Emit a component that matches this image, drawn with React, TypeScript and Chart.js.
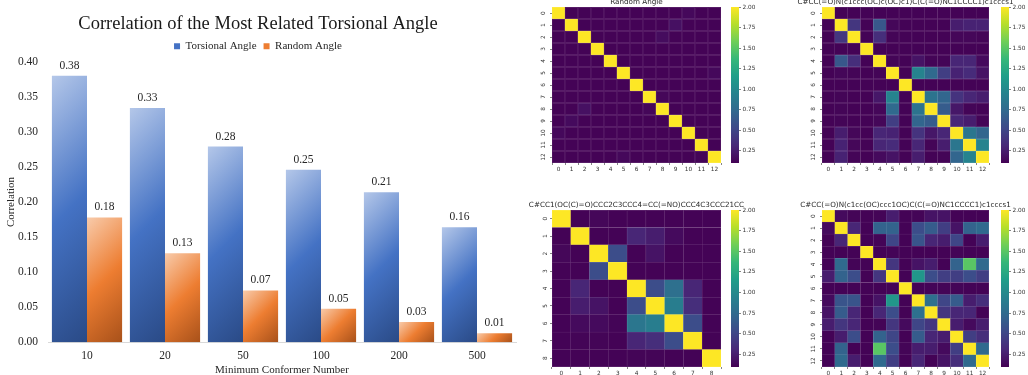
import React, { useEffect, useRef } from 'react';
import { Chart, registerables } from 'chart.js';

Chart.register(...registerables);

// ---------------- data ----------------
const categories = ['10', '20', '50', '100', '200', '500'];
const torsionalAngle = [0.38, 0.334, 0.279, 0.246, 0.214, 0.164];
const randomAngle = [0.178, 0.127, 0.074, 0.048, 0.029, 0.013];
const yTickValues = [0, 0.05, 0.1, 0.15, 0.2, 0.25, 0.3, 0.35, 0.4];

const heatTicks13 = ['0', '1', '2', '3', '4', '5', '6', '7', '8', '9', '10', '11', '12'];
const heatTicks9 = ['0', '1', '2', '3', '4', '5', '6', '7', '8'];
const colorbarTicks = [0.25, 0.5, 0.75, 1.0, 1.25, 1.5, 1.75, 2.0];
const colorMin = 0.1;
const colorMax = 2.0;

const randomAngleMatrix = [
  [2.0, 0.11, 0.11, 0.11, 0.11, 0.11, 0.11, 0.11, 0.11, 0.11, 0.14, 0.11, 0.11],
  [0.11, 2.0, 0.11, 0.11, 0.11, 0.11, 0.11, 0.11, 0.11, 0.18, 0.11, 0.11, 0.11],
  [0.11, 0.11, 2.0, 0.11, 0.11, 0.11, 0.11, 0.11, 0.16, 0.11, 0.11, 0.11, 0.11],
  [0.11, 0.11, 0.11, 2.0, 0.11, 0.11, 0.11, 0.11, 0.11, 0.11, 0.11, 0.11, 0.11],
  [0.11, 0.11, 0.11, 0.11, 2.0, 0.11, 0.11, 0.11, 0.11, 0.11, 0.11, 0.11, 0.11],
  [0.11, 0.11, 0.11, 0.11, 0.11, 2.0, 0.11, 0.11, 0.11, 0.11, 0.11, 0.11, 0.14],
  [0.11, 0.11, 0.11, 0.11, 0.11, 0.11, 2.0, 0.11, 0.11, 0.11, 0.11, 0.11, 0.11],
  [0.11, 0.11, 0.11, 0.11, 0.11, 0.11, 0.11, 2.0, 0.13, 0.11, 0.11, 0.11, 0.11],
  [0.11, 0.11, 0.18, 0.11, 0.11, 0.11, 0.11, 0.13, 2.0, 0.11, 0.11, 0.11, 0.11],
  [0.11, 0.15, 0.11, 0.11, 0.11, 0.11, 0.11, 0.11, 0.11, 2.0, 0.11, 0.11, 0.11],
  [0.14, 0.11, 0.11, 0.11, 0.11, 0.11, 0.11, 0.11, 0.11, 0.11, 2.0, 0.11, 0.11],
  [0.11, 0.11, 0.11, 0.11, 0.11, 0.11, 0.11, 0.11, 0.11, 0.11, 0.11, 2.0, 0.11],
  [0.11, 0.11, 0.11, 0.11, 0.11, 0.14, 0.11, 0.11, 0.11, 0.11, 0.11, 0.12, 2.0],
];

const moleculeAMatrix = [
  [2.0, 0.11, 0.11, 0.11, 0.11, 0.11, 0.11, 0.11, 0.11, 0.11, 0.11, 0.11, 0.11],
  [0.11, 2.0, 0.4, 0.11, 0.62, 0.13, 0.11, 0.11, 0.11, 0.11, 0.25, 0.28, 0.28],
  [0.11, 0.4, 2.0, 0.11, 0.35, 0.12, 0.11, 0.11, 0.11, 0.11, 0.13, 0.13, 0.12],
  [0.11, 0.11, 0.11, 2.0, 0.11, 0.11, 0.11, 0.11, 0.11, 0.11, 0.11, 0.11, 0.11],
  [0.11, 0.62, 0.35, 0.11, 2.0, 0.12, 0.11, 0.2, 0.12, 0.12, 0.3, 0.3, 0.15],
  [0.11, 0.13, 0.12, 0.11, 0.12, 2.0, 0.11, 0.95, 0.75, 0.45, 0.28, 0.33, 0.2],
  [0.11, 0.11, 0.11, 0.11, 0.11, 0.11, 2.0, 0.11, 0.11, 0.11, 0.11, 0.11, 0.11],
  [0.11, 0.12, 0.11, 0.11, 0.22, 0.95, 0.11, 2.0, 0.82, 0.72, 0.38, 0.3, 0.25],
  [0.11, 0.12, 0.11, 0.11, 0.13, 0.75, 0.11, 0.82, 2.0, 0.65, 0.22, 0.12, 0.11],
  [0.11, 0.12, 0.11, 0.11, 0.13, 0.45, 0.11, 0.72, 0.65, 2.0, 0.3, 0.25, 0.12],
  [0.11, 0.25, 0.13, 0.11, 0.3, 0.28, 0.11, 0.38, 0.22, 0.3, 2.0, 0.85, 0.72],
  [0.11, 0.28, 0.13, 0.11, 0.3, 0.33, 0.11, 0.3, 0.12, 0.25, 0.85, 2.0, 0.95],
  [0.11, 0.28, 0.12, 0.11, 0.15, 0.2, 0.11, 0.25, 0.11, 0.12, 0.72, 0.95, 2.0],
];

const moleculeBMatrix = [
  [2.0, 0.11, 0.13, 0.11, 0.11, 0.11, 0.11, 0.11, 0.11],
  [0.11, 2.0, 0.11, 0.11, 0.3, 0.25, 0.15, 0.11, 0.11],
  [0.13, 0.11, 2.0, 0.55, 0.11, 0.2, 0.11, 0.11, 0.11],
  [0.11, 0.11, 0.55, 2.0, 0.11, 0.11, 0.11, 0.11, 0.11],
  [0.11, 0.3, 0.11, 0.11, 2.0, 0.55, 0.8, 0.3, 0.11],
  [0.11, 0.25, 0.2, 0.11, 0.55, 2.0, 0.9, 0.35, 0.11],
  [0.11, 0.15, 0.15, 0.12, 0.85, 0.9, 2.0, 0.55, 0.11],
  [0.11, 0.12, 0.12, 0.11, 0.3, 0.35, 0.55, 2.0, 0.11],
  [0.11, 0.11, 0.11, 0.11, 0.12, 0.12, 0.11, 0.11, 2.0],
];

const moleculeCMatrix = [
  [2.0, 0.15, 0.12, 0.11, 0.12, 0.25, 0.11, 0.12, 0.2, 0.2, 0.11, 0.11, 0.11],
  [0.15, 2.0, 0.3, 0.11, 0.7, 0.7, 0.11, 0.55, 0.65, 0.45, 0.2, 0.7, 0.75],
  [0.11, 0.3, 2.0, 0.11, 0.12, 0.5, 0.11, 0.6, 0.3, 0.25, 0.5, 0.11, 0.25],
  [0.11, 0.11, 0.11, 2.0, 0.11, 0.12, 0.11, 0.11, 0.11, 0.11, 0.12, 0.11, 0.11],
  [0.11, 0.75, 0.12, 0.11, 2.0, 0.4, 0.11, 0.2, 0.25, 0.11, 0.7, 1.5, 0.75],
  [0.25, 0.7, 0.55, 0.11, 0.4, 2.0, 0.11, 1.1, 0.55, 0.45, 0.45, 0.55, 0.45],
  [0.11, 0.11, 0.11, 0.11, 0.11, 0.12, 2.0, 0.11, 0.12, 0.12, 0.12, 0.11, 0.11],
  [0.15, 0.6, 0.6, 0.11, 0.2, 1.1, 0.11, 2.0, 0.8, 0.5, 0.65, 0.25, 0.35],
  [0.2, 0.65, 0.3, 0.11, 0.3, 0.55, 0.11, 0.8, 2.0, 0.4, 0.3, 0.3, 0.11],
  [0.25, 0.4, 0.3, 0.11, 0.12, 0.4, 0.15, 0.5, 0.4, 2.0, 0.25, 0.15, 0.25],
  [0.11, 0.25, 0.55, 0.11, 0.7, 0.5, 0.11, 0.65, 0.3, 0.25, 2.0, 0.45, 0.35],
  [0.11, 0.7, 0.11, 0.11, 1.5, 0.55, 0.12, 0.25, 0.25, 0.15, 0.45, 2.0, 0.75],
  [0.11, 0.75, 0.25, 0.11, 0.75, 0.45, 0.11, 0.3, 0.11, 0.2, 0.35, 0.75, 2.0],
];

// ---------------- styles ----------------
const SERIF = '"Liberation Serif", "Times New Roman", serif';
const SANS = '"DejaVu Sans", sans-serif';
const BLUE_STOPS = ['#b4c7e9', '#4472c4', '#2a4a86'];
const ORANGE_STOPS = ['#f8cbab', '#ed7d31', '#a8511a'];
const VIRIDIS = ['#440154', '#482878', '#3e4989', '#31688e', '#26828e', '#1f9e89', '#35b779', '#6ece58', '#b5de2b', '#fde725'];

function hexToRgb(h: string): number[] {
  const n = parseInt(h.slice(1), 16);
  return [(n >> 16) & 255, (n >> 8) & 255, n & 255];
}

function viridis(v: number, lighten = 0): string {
  let t = (v - colorMin) / (colorMax - colorMin);
  t = Math.max(0, Math.min(1, t));
  const seg = t * (VIRIDIS.length - 1);
  const i = Math.min(Math.floor(seg), VIRIDIS.length - 2);
  const f = seg - i;
  const a = hexToRgb(VIRIDIS[i]);
  const b = hexToRgb(VIRIDIS[i + 1]);
  const c = a.map((x, k) => x + (b[k] - x) * f).map((x) => x + (255 - x) * lighten);
  return `rgb(${c.map((x) => Math.round(x)).join(',')})`;
}

function barFill(stops: string[], datasetOffset: number) {
  return (ctx: any) => {
    const chart = ctx.chart;
    const xs = chart.scales?.x;
    const ys = chart.scales?.y;
    if (ctx.type !== 'data' || !xs || !ys || !chart.chartArea) return stops[1];
    const catW = xs.width / categories.length;
    const barW = (catW * 0.9) / 2;
    const center = xs.getPixelForValue(ctx.dataIndex);
    const x0 = center - barW + datasetOffset * barW;
    const top = ys.getPixelForValue(ctx.raw);
    const bottom = ys.getPixelForValue(0);
    const d = (barW + (bottom - top)) / 2;
    if (!isFinite(d) || d <= 0) return stops[1];
    const g = chart.ctx.createLinearGradient(x0, top, x0 + d, top + d);
    g.addColorStop(0, stops[0]);
    g.addColorStop(0.5, stops[1]);
    g.addColorStop(1, stops[2]);
    return g;
  };
}

const valueLabels = {
  id: 'valueLabels',
  afterDatasetsDraw(chart: any) {
    const { ctx } = chart;
    ctx.save();
    ctx.font = `11.5px ${SERIF}`;
    ctx.fillStyle = '#262626';
    ctx.textAlign = 'center';
    ctx.textBaseline = 'middle';
    chart.data.datasets.forEach((ds: any, di: number) => {
      chart.getDatasetMeta(di).data.forEach((el: any, i: number) => {
        ctx.fillText(Number(ds.data[i]).toFixed(2), el.x, el.y - 10);
      });
    });
    ctx.restore();
  },
};

function BarPanel() {
  const ref = useRef<HTMLCanvasElement>(null);
  useEffect(() => {
    if (!ref.current) return;
    const legendColors = ['#4472c4', '#ed7d31'];
    const chart = new Chart(ref.current, {
      type: 'bar',
      data: {
        labels: categories,
        datasets: [
          { label: 'Torsional Angle', data: torsionalAngle, backgroundColor: barFill(BLUE_STOPS, 0) as any, categoryPercentage: 0.9, barPercentage: 1 },
          { label: 'Random Angle', data: randomAngle, backgroundColor: barFill(ORANGE_STOPS, 1) as any, categoryPercentage: 0.9, barPercentage: 1 },
        ],
      },
      options: {
        animation: false,
        responsive: false,
        events: [],
        layout: { padding: { top: 0, right: 14, left: 0, bottom: 0 } },
        plugins: {
          title: {
            display: true,
            text: 'Correlation of the Most Related Torsional Angle',
            font: { family: SERIF, size: 18.5, weight: 'normal', lineHeight: 1 },
            color: '#1a1a1a',
            padding: { top: 9.5, bottom: 0 },
          },
          legend: {
            display: true,
            position: 'top',
            labels: {
              boxWidth: 6,
              boxHeight: 6,
              padding: 7,
              font: { family: SERIF, size: 11 },
              color: '#262626',
              generateLabels: (c: any) =>
                c.data.datasets.map((ds: any, i: number) => ({
                  text: ds.label,
                  fillStyle: legendColors[i],
                  strokeStyle: legendColors[i],
                  lineWidth: 0,
                  hidden: false,
                  datasetIndex: i,
                  fontColor: '#262626',
                })),
            },
          },
          tooltip: { enabled: false },
        },
        scales: {
          x: {
            grid: { display: false, drawTicks: false },
            border: { display: true, color: '#d9d9d9', width: 1 },
            ticks: { font: { family: SERIF, size: 11.5 }, color: '#262626', padding: 6.5 },
            afterFit: (s: any) => {
              s.height = 34.7;
            },
            title: {
              display: true,
              text: 'Minimum Conformer Number',
              font: { family: SERIF, size: 11 },
              color: '#262626',
              padding: { top: 1, bottom: 0 },
            },
          },
          y: {
            min: 0,
            max: 0.4,
            afterBuildTicks: (s: any) => {
              s.ticks = yTickValues.map((v) => ({ value: v }));
            },
            afterFit: (s: any) => {
              s.width = 48;
              s.paddingTop = 61.7;
            },
            grid: { display: false, drawTicks: false },
            border: { display: false },
            ticks: {
              callback: (v: any) => Number(v).toFixed(2),
              font: { family: SERIF, size: 11.5 },
              color: '#262626',
              padding: 10,
            },
            title: {
              display: true,
              text: 'Correlation',
              font: { family: SERIF, size: 11 },
              color: '#262626',
              padding: { top: 5, bottom: 0 },
            },
          },
        },
      } as any,
      plugins: [valueLabels],
    });
    return () => chart.destroy();
  }, []);
  return <canvas ref={ref} width={530} height={377} style={{ position: 'absolute', left: 0, top: 0 }} />;
}

const colorbarFill = {
  id: 'colorbarFill',
  beforeDatasetsDraw(chart: any) {
    const { ctx, chartArea: a } = chart;
    const y = chart.scales.y;
    const g = ctx.createLinearGradient(0, y.getPixelForValue(colorMin), 0, y.getPixelForValue(colorMax));
    VIRIDIS.forEach((c, i) => g.addColorStop(i / (VIRIDIS.length - 1), c));
    ctx.save();
    ctx.fillStyle = g;
    ctx.fillRect(a.left, a.top, a.right - a.left, a.bottom - a.top);
    ctx.restore();
  },
};

type Rect = { x: number; y: number; w: number; h: number };

function HeatmapPanel(props: { title: string; matrix: number[][]; ticks: string[]; plot: Rect; cbX: number }) {
  const { title, matrix, ticks, plot, cbX } = props;
  const ref = useRef<HTMLCanvasElement>(null);
  const cbRef = useRef<HTMLCanvasElement>(null);
  const PAD_L = 30;
  const PAD_T = 22;
  const PAD_B = 14;
  const PAD_R = 30;
  const CB_W = 8;
  const CB_AXIS = 26;

  useEffect(() => {
    if (!ref.current || !cbRef.current) return;
    const n = matrix.length;
    const cells: any[] = [];
    matrix.forEach((row, r) => row.forEach((v, c) => cells.push({ x: c, y: [r - 0.5, r + 0.5], v })));
    const tickFont = { family: SANS, size: 5.8 };
    const tickColor = '#333333';
    const chart = new Chart(ref.current, {
      type: 'bar',
      data: {
        datasets: [
          {
            data: cells,
            backgroundColor: cells.map((c) => viridis(c.v)),
            borderColor: cells.map((c) => viridis(c.v, 0.22)),
            borderWidth: 0.5,
            borderSkipped: false,
            barPercentage: 1,
            categoryPercentage: 1,
          },
        ],
      },
      options: {
        animation: false,
        responsive: false,
        events: [],
        layout: { padding: { left: 0, right: 0, top: 0, bottom: 0 } },
        plugins: {
          legend: { display: false },
          tooltip: { enabled: false },
          title: {
            display: true,
            text: title,
            font: { family: SANS, size: 7.2, weight: 'normal', lineHeight: 1.2 },
            color: '#262626',
            padding: { top: 12.8, bottom: 0.6 },
          },
        },
        scales: {
          x: {
            type: 'linear',
            offset: false,
            min: -0.5,
            max: n - 0.5,
            afterBuildTicks: (s: any) => {
              s.ticks = ticks.map((_, i) => ({ value: i }));
            },
            afterFit: (s: any) => {
              s.height = PAD_B;
            },
            ticks: {
              callback: (_v: any, i: number) => ticks[i],
              font: tickFont,
              color: tickColor,
              padding: 1,
              minRotation: 0,
              maxRotation: 0,
              autoSkip: false,
            },
            grid: { display: true, drawOnChartArea: false, drawTicks: true, tickLength: 2, color: '#333333', lineWidth: 0.6 },
            border: { display: false },
          },
          y: {
            type: 'linear',
            reverse: true,
            min: -0.5,
            max: n - 0.5,
            afterBuildTicks: (s: any) => {
              s.ticks = ticks.map((_, i) => ({ value: i }));
            },
            afterFit: (s: any) => {
              s.width = PAD_L;
            },
            ticks: {
              callback: (_v: any, i: number) => ticks[i],
              font: tickFont,
              color: tickColor,
              padding: 3,
              minRotation: 90,
              maxRotation: 90,
              crossAlign: 'center',
              autoSkip: false,
            },
            grid: { display: true, drawOnChartArea: false, drawTicks: true, tickLength: 2, color: '#333333', lineWidth: 0.6 },
            border: { display: false },
          },
          // invisible spacer on the right so that the title centres over the cells
          spacer: {
            type: 'linear',
            axis: 'y',
            position: 'right',
            display: true,
            min: 0,
            max: 1,
            afterFit: (s: any) => {
              s.width = PAD_R;
            },
            ticks: { display: false },
            grid: { display: false, drawTicks: false },
            border: { display: false },
          },
        },
      } as any,
    });

    const cb = new Chart(cbRef.current, {
      type: 'scatter',
      data: { datasets: [{ data: [] }] },
      options: {
        animation: false,
        responsive: false,
        events: [],
        layout: { padding: { left: 0, right: 0, top: 6, bottom: 6 } },
        plugins: { legend: { display: false }, tooltip: { enabled: false }, title: { display: false } },
        scales: {
          x: { display: false, min: 0, max: 1 },
          y: {
            position: 'right',
            min: colorMin,
            max: colorMax,
            afterBuildTicks: (s: any) => {
              s.ticks = colorbarTicks.map((v) => ({ value: v }));
            },
            afterFit: (s: any) => {
              s.width = CB_AXIS;
            },
            ticks: {
              callback: (v: any) => Number(v).toFixed(2),
              font: tickFont,
              color: tickColor,
              padding: 1.5,
            },
            grid: { display: true, drawOnChartArea: false, drawTicks: true, tickLength: 2, color: '#333333', lineWidth: 0.6 },
            border: { display: false },
          },
        },
      } as any,
      plugins: [colorbarFill],
    });
    return () => {
      chart.destroy();
      cb.destroy();
    };
  }, []);

  return (
    <>
      <canvas
        ref={ref}
        width={plot.w + PAD_L + PAD_R}
        height={plot.h + PAD_T + PAD_B}
        style={{ position: 'absolute', left: plot.x - PAD_L, top: plot.y - PAD_T }}
      />
      <canvas
        ref={cbRef}
        width={CB_W + CB_AXIS}
        height={plot.h + 12}
        style={{ position: 'absolute', left: cbX, top: plot.y - 6 }}
      />
    </>
  );
}

export default function App() {
  return (
    <div
      style={{
        position: 'fixed',
        left: 0,
        top: 0,
        width: 1028,
        height: 375,
        overflow: 'hidden',
        background: '#ffffff',
      }}
    >
      <BarPanel />
      <HeatmapPanel title="Random Angle" matrix={randomAngleMatrix} ticks={heatTicks13} plot={{ x: 552, y: 7, w: 169, h: 156 }} cbX={731} />
      <HeatmapPanel
        title="C#CC(=O)N(c1ccc(OC)c(OC)c1)C(C(=O)NC1CCCC1)c1cccs1"
        matrix={moleculeAMatrix}
        ticks={heatTicks13}
        plot={{ x: 822, y: 7, w: 167, h: 156 }}
        cbX={1001}
      />
      <HeatmapPanel
        title="C#CC1(OC(C)=O)CCC2C3CCC4=CC(=NO)CCC4C3CCC21CC"
        matrix={moleculeBMatrix}
        ticks={heatTicks9}
        plot={{ x: 552, y: 210, w: 169, h: 157 }}
        cbX={731}
      />
      <HeatmapPanel
        title="C#CC(=O)N(c1cc(OC)ccc1OC)C(C(=O)NC1CCCC1)c1cccs1"
        matrix={moleculeCMatrix}
        ticks={heatTicks13}
        plot={{ x: 822, y: 210, w: 167, h: 157 }}
        cbX={1001}
      />
    </div>
  );
}
